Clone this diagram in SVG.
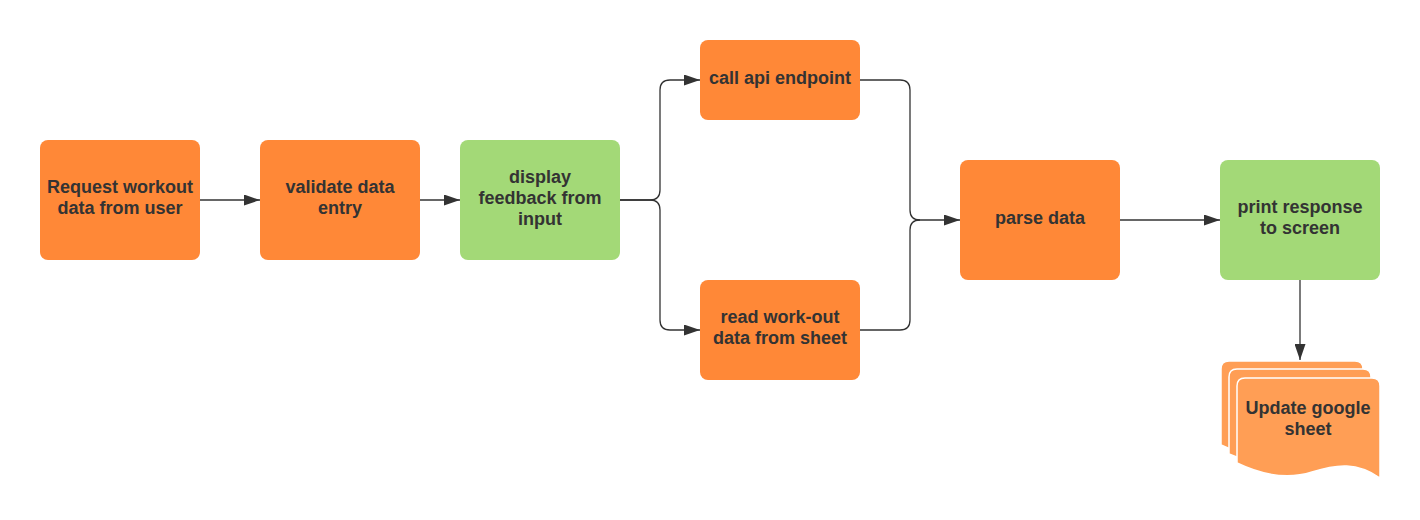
<svg xmlns="http://www.w3.org/2000/svg" width="1420" height="520" viewBox="0 0 1420 520">
<defs>
<style>
.o{fill:#FF8837;}
.g{fill:#A3D977;}
.d{fill:#FF9E55;stroke:#FFFFFF;stroke-width:1.5;}
.t{font-family:"Liberation Sans",Arial,sans-serif;font-weight:bold;font-size:18px;fill:#333333;text-anchor:middle;}
.c{fill:none;stroke:#333333;stroke-width:1.3;}
</style>
<marker id="ah" markerWidth="16" markerHeight="11" refX="16" refY="5.5" orient="auto" markerUnits="userSpaceOnUse">
<path d="M0,0 L16,5.5 L0,11 Z" fill="#333333"/>
</marker>
</defs>
<rect width="1420" height="520" fill="#FFFFFF"/>
<g id="connectors">
<path class="c" d="M200,200 L260,200" marker-end="url(#ah)"/>
<path class="c" d="M420,200 L460,200" marker-end="url(#ah)"/>
<path class="c" d="M620,200 L650,200 Q660,200 660,190 L660,90 Q660,80 670,80 L700,80" marker-end="url(#ah)"/>
<path class="c" d="M620,200 L650,200 Q660,200 660,210 L660,320 Q660,330 670,330 L700,330" marker-end="url(#ah)"/>
<path class="c" d="M860,80 L900,80 Q910,80 910,90 L910,210 Q910,220 920,220 L960,220" marker-end="url(#ah)"/>
<path class="c" d="M860,330 L900,330 Q910,330 910,320 L910,230 Q910,220 920,220"/>
<path class="c" d="M1120,220 L1220,220" marker-end="url(#ah)"/>
<path class="c" d="M1300,280 L1300,360" marker-end="url(#ah)"/>
</g>
<g id="request">
<rect class="o" x="40" y="140" width="160" height="120" rx="8"/>
<text class="t" x="120" y="193">Request workout</text>
<text class="t" x="120" y="214">data from user</text>
</g>
<g id="validate">
<rect class="o" x="260" y="140" width="160" height="120" rx="8"/>
<text class="t" x="340" y="193">validate data</text>
<text class="t" x="340" y="214">entry</text>
</g>
<g id="display">
<rect class="g" x="460" y="140" width="160" height="120" rx="8"/>
<text class="t" x="540" y="182.5">display</text>
<text class="t" x="540" y="203.5">feedback from</text>
<text class="t" x="540" y="224.5">input</text>
</g>
<g id="callapi">
<rect class="o" x="700" y="40" width="160" height="80" rx="8"/>
<text class="t" x="780" y="83.5">call api endpoint</text>
</g>
<g id="read">
<rect class="o" x="700" y="280" width="160" height="100" rx="8"/>
<text class="t" x="780" y="323">read work-out</text>
<text class="t" x="780" y="344">data from sheet</text>
</g>
<g id="parse">
<rect class="o" x="960" y="160" width="160" height="120" rx="8"/>
<text class="t" x="1040" y="223.5">parse data</text>
</g>
<g id="print">
<rect class="g" x="1220" y="160" width="160" height="120" rx="8"/>
<text class="t" x="1300" y="213">print response</text>
<text class="t" x="1300" y="234">to screen</text>
</g>
<g id="update">
<path class="d" d="M1221,445 L1221,369 Q1221,361 1229,361 L1355,361 Q1363,361 1363,369 L1363,461 C1340,446 1320,448 1295,456 C1270,464 1245,456 1221,445 Z"/>
<path class="d" d="M1229,454 L1229,377 Q1229,369 1237,369 L1363,369 Q1371,369 1371,377 L1371,469 C1348,454 1328,456 1303,464 C1278,472 1253,464 1229,454 Z"/>
<path class="d" d="M1237,463 L1237,386 Q1237,378 1245,378 L1372,378 Q1380,378 1380,386 L1380,478 C1357,462 1337,464 1312,472 C1287,480 1262,475 1237,463 Z"/>
<text class="t" x="1308" y="414">Update google</text>
<text class="t" x="1308" y="435">sheet</text>
</g>
</svg>
